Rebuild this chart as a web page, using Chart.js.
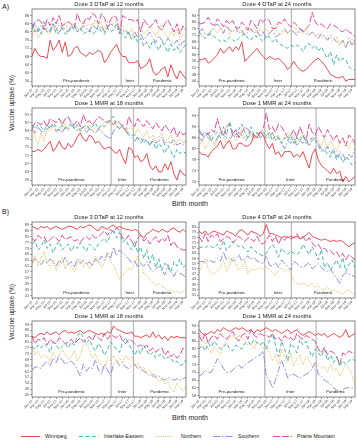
<!DOCTYPE html>
<html>
<head>
<meta charset="utf-8">
<script src="https://cdn.jsdelivr.net/npm/chart.js@4.4.1/dist/chart.umd.min.js"></script>
<style>
  body { margin: 0; background: #fff; width: 357px; height: 440px; position: relative; overflow: hidden;
         font-family: "Liberation Sans", Arial, sans-serif; color: #222; }
  .pan { position: absolute; }
  .txt { position: absolute; white-space: nowrap; }
  .ylab { position: absolute; white-space: nowrap; font-size: 6.5px; transform: translate(-50%, -50%) rotate(-90deg); }
</style>
</head>
<body>
<div class="txt" style="left:2px;top:3px;font-size:7px;">A)</div>
<div class="txt" style="left:2px;top:208px;font-size:7px;">B)</div>
<div class="ylab" style="left:11px;top:103px;">Vaccine uptake (%)</div>
<div class="ylab" style="left:11px;top:312px;">Vaccine uptake (%)</div>
<div class="txt" style="left:190px;top:200px;font-size:7px;transform:translateX(-50%);">Birth month</div>
<div class="txt" style="left:190px;top:414px;font-size:7px;transform:translateX(-50%);">Birth month</div>

<canvas class="pan" id="a1" style="left:18px;top:1px;" width="169" height="97"></canvas>
<canvas class="pan" id="a2" style="left:185px;top:1px;" width="171" height="97"></canvas>
<canvas class="pan" id="a3" style="left:18px;top:100px;" width="169" height="97"></canvas>
<canvas class="pan" id="a4" style="left:185px;top:100px;" width="171" height="97"></canvas>
<canvas class="pan" id="b1" style="left:18px;top:214px;" width="169" height="96"></canvas>
<canvas class="pan" id="b2" style="left:185px;top:214px;" width="171" height="96"></canvas>
<canvas class="pan" id="b3" style="left:18px;top:313px;" width="169" height="96"></canvas>
<canvas class="pan" id="b4" style="left:185px;top:313px;" width="171" height="96"></canvas>

<svg id="legend" class="pan" style="left:0;top:431px;" width="357" height="10"></svg>

<script>
const FONT = '"Liberation Sans", Arial, sans-serif';

// Régions et style des lignes
const regions = ['Winnipeg', 'Interlake-Eastern', 'Northern', 'Southern', 'Prairie Mountain'];
const regionColors = ['#ee4a4f', '#45b8aa', '#e6b443', '#8d8fe2', '#e64b9b'];
const regionDash = [[], [4, 2.5], [1, 1.3], [7, 2, 1.5, 2], [7, 2]];
const periodNames = ['Pre-pandemic', 'Inter', 'Pandemic'];

const monthLabels = [
  'Jan-15','Feb-15','Mar-15','Apr-15','May-15','Jun-15','Jul-15','Aug-15','Sep-15','Oct-15','Nov-15','Dec-15',
  'Jan-16','Feb-16','Mar-16','Apr-16','May-16','Jun-16','Jul-16','Aug-16','Sep-16','Oct-16','Nov-16','Dec-16',
  'Jan-17','Feb-17','Mar-17','Apr-17','May-17','Jun-17','Jul-17','Aug-17','Sep-17','Oct-17','Nov-17','Dec-17',
  'Jan-18','Feb-18','Mar-18','Apr-18','May-18','Jun-18','Jul-18','Aug-18','Sep-18','Oct-18','Nov-18','Dec-18',
  'Jan-19','Feb-19','Mar-19','Apr-19'
];

const panelTitles = ['Dose 3 DTaP at 12 months', 'Dose 4 DTaP at 24 months', 'Dose 1 MMR at 18 months', 'Dose 1 MMR at 24 months'];

// Limites des périodes (position sur l'axe des mois)
const breaks12 = [29.5, 35.3];
const breaks18 = [26.2, 33.6];
const breaksDtap24 = [21.5, 30.2];
const breaksMmr24 = [21.5, 38.3];

// Graduations de l'axe Y
const ticksA1 = [56, 60, 64, 68, 72, 76, 80, 84, 88];
const ticksA2 = [44, 48, 52, 56, 60, 64, 68, 72, 76, 80, 84];
const ticksA3 = [59, 63, 67, 71, 75, 79, 83, 87, 91];
const ticksA4 = [70, 74, 78, 82, 86, 90, 94];
const ticksB1 = [41, 45, 49, 53, 57, 61, 65, 69, 73, 77, 81, 85, 89];
const ticksB2 = [31, 35, 39, 43, 47, 51, 55, 59, 63, 67, 71, 75, 79, 83];
const ticksB3 = [45, 49, 53, 57, 61, 65, 69, 73, 77, 81, 85, 89, 93];
const ticksB4 = [58, 62, 66, 70, 74, 78, 82, 86, 90, 94];

// A) Dose 3 DTaP at 12 months
const a1Winnipeg = [68,72,69,68,68,67,76,71,73,76,70,75,68,69,72,73,70,69,68,70,69,70,71,70,65,67,70,72,74,70,
  68,68,65,65,65,66, 62,63,64,67,61,59,60,62,63,58,64,60,57,61,59,57];
const a1Interlake = [84,80,82,79,83,80,81,84,79,80,82,79,80,83,81,80,82,79,80,81,79,80,83,80,79,82,80,81,84,80,
  79,77,80,76,78,75, 77,73,75,72,76,74,71,75,73,70,74,71,73,70,72,74];
const a1Northern = [78,82,77,80,84,80,79,83,80,84,82,85,80,83,84,82,81,85,83,84,82,86,83,85,80,85,86,84,86,82,
  83,80,78,82,77,80, 82,79,80,83,80,78,81,84,79,77,80,78,82,76,79,78];
const a1Southern = [81,84,80,83,85,82,80,84,82,79,83,81,80,82,84,80,81,83,82,80,84,82,81,83,80,82,84,83,81,82,
  80,81,79,78,80,77, 79,76,78,80,77,75,78,76,74,77,75,74,76,73,75,76];
const a1Prairie = [82,85,86,85,81,86,83,87,84,88,83,84,85,84,82,89,85,84,87,86,89,88,84,89,87,82,86,88,87,79,
  88,87,86,86,85,86, 80,86,84,82,84,86,82,81,84,86,83,80,84,79,83,81];

// A) Dose 4 DTaP at 24 months
const a2Winnipeg = [57,57,58,55,56,58,60,64,61,63,65,62,65,63,68,56,58,60,62,64,61,59,
  57,59,58,57,58,56,54,51,53, 56,53,51,50,51,53,55,57,58,56,54,51,48,47,46,46,47,44,45,45,45];
const a2Interlake = [74,72,70,72,73,71,70,68,69,68,71,69,68,70,72,73,70,69,72,71,70,68,
  72,71,68,70,67,66,65,64,66, 65,66,65,62,66,67,64,66,62,65,61,58,62,54,60,56,58,57,53,51,51];
const a2Northern = [72,71,73,72,75,76,73,77,74,76,72,75,74,76,73,75,77,74,76,73,76,74,
  76,73,77,75,74,72,75,73,76, 77,75,74,73,76,72,74,71,73,70,72,69,70,68,71,66,69,65,68,70,66];
const a2Southern = [74,76,73,72,75,77,79,76,73,78,75,74,77,73,75,72,74,76,73,75,71,74,
  70,73,75,71,72,74,76,73,75, 74,72,76,75,73,72,74,72,70,73,71,69,72,70,68,66,69,64,70,66,69];
const a2Prairie = [79,79,80,83,79,78,82,80,77,81,79,81,77,76,80,78,75,81,79,76,82,80,
  82,81,76,76,80,79,82,79,77, 80,78,76,74,76,78,86,80,78,79,77,76,79,78,77,75,74,76,74,73,71];

// A) Dose 1 MMR at 18 months
const a3Winnipeg = [73,73,74,73,74,76,78,73,75,78,75,74,77,75,77,80,82,79,78,81,80,77,78,76,74,75,75,
  73,72,74,70,67,75,74, 70,71,68,69,72,66,64,66,63,63,67,64,68,62,59,64,62,61];
const a3Interlake = [86,84,86,85,83,86,84,87,85,83,86,84,85,87,84,86,83,85,86,84,85,87,84,86,85,87,89,
  90,86,84,85,83,82,81, 81,79,80,77,79,76,78,74,77,75,72,76,73,70,74,72,73,72];
const a3Northern = [85,80,76,82,78,84,83,86,82,85,84,87,83,85,86,84,82,85,84,86,83,85,84,86,87,88,86,
  88,85,84,86,83,84,85, 81,84,82,80,83,79,81,78,80,82,77,79,81,76,78,79,77,79];
const a3Southern = [84,82,85,83,82,84,85,86,83,84,82,85,84,86,85,83,84,85,82,84,83,82,84,83,81,80,79,
  83,85,84,86,83,81,80, 78,80,77,79,78,76,79,77,78,80,76,78,77,79,76,77,76,78];
const a3Prairie = [84,87,87,86,88,85,89,88,87,89,86,89,90,87,86,88,85,91,87,88,86,88,90,89,88,87,88,
  86,88,87,85,83,90,87, 85,89,87,85,88,86,84,87,85,83,86,84,82,85,80,83,81,82];

// A) Dose 1 MMR at 24 months
const a4Winnipeg = [81,80,80,79,81,82,83,85,82,84,85,82,82,84,84,83,83,84,87,86,88,87,
  84,82,84,80,81,79,81,81,81,79,80,79,81,78,75,80,82, 78,76,75,74,73,75,73,74,70,72,70,71,72];
const a4Interlake = [89,87,86,88,85,87,88,86,90,87,92,88,87,89,91,88,86,90,87,88,86,87,
  86,88,85,87,86,84,86,85,87,84,86,85,87,84,85,86,85, 83,81,82,80,79,81,78,80,77,79,78,76,77];
const a4Northern = [83,85,82,84,87,83,85,88,86,84,86,88,85,87,89,86,88,87,85,88,86,87,
  89,86,88,85,87,84,86,88,85,87,84,86,88,85,83,86,87, 85,83,86,82,85,83,81,84,86,84,82,85,83];
const a4Southern = [86,85,87,86,85,84,86,88,87,86,85,87,86,88,87,85,86,88,87,86,87,88,
  87,86,88,85,86,84,82,85,84,86,83,85,84,86,83,85,86, 84,82,81,83,80,82,79,81,80,78,80,79,82];
const a4Prairie = [88,87,88,87,89,88,93,89,87,90,91,87,89,86,88,90,89,88,86,87,88,89,
  95,89,90,88,91,90,88,86,87,89,86,90,87,85,91,88,87, 90,88,86,89,87,85,87,84,86,83,87,86,84];

// B) Dose 3 DTaP at 12 months
const b1Winnipeg = [88,87,86,88,87,88,86,87,88,87,86,87,88,88,87,86,88,87,88,89,88,86,85,88,87,86,88,89,87,88,
  87,86,86,85,86,85, 82,80,83,84,86,85,84,86,85,84,86,87,85,84,86,84];
const b1Interlake = [76,78,72,74,79,73,76,70,75,78,72,74,76,71,75,73,77,74,71,76,74,72,76,78,80,77,83,86,80,84,
  77,79,75,72,78,70, 74,66,72,63,69,60,66,58,63,60,57,64,61,66,60,62];
const b1Northern = [62,68,61,66,71,63,60,65,58,62,67,59,64,61,57,63,66,60,64,59,62,68,65,60,63,70,64,62,57,52,
  55,57,60,58,63,68, 64,56,55,52,50,48,49,47,46,44,45,43,44,42,44,45];
const b1Southern = [63,66,64,62,65,63,66,64,61,65,63,67,62,64,60,66,63,65,62,64,61,66,63,68,65,70,66,74,68,72,
  70,68,66,63,65,60, 63,61,64,60,57,59,61,58,55,62,57,54,58,56,55,53];
const b1Prairie = [80,78,82,80,81,77,79,81,80,78,82,79,80,81,78,79,77,80,81,79,82,80,81,83,85,82,86,84,87,85,
  80,79,82,78,74,80, 82,78,80,76,79,81,77,80,78,82,75,78,74,73,72,72];

// B) Dose 4 DTaP at 24 months
const b2Winnipeg = [80,78,80,77,79,80,79,78,77,80,79,78,76,80,81,79,77,80,79,78,76,78,
  85,78,78,77,76,75,76,75,76, 75,76,74,75,77,79,76,75,74,73,74,73,72,73,72,73,72,70,68,70,71];
const b2Interlake = [67,68,67,69,68,67,70,66,73,65,68,72,70,68,69,66,64,68,66,63,62,61,
  63,67,70,66,60,67,64,62,65, 63,62,64,70,66,62,68,64,58,66,52,56,50,54,58,52,60,49,54,58,52];
const b2Northern = [48,54,59,51,48,47,50,52,58,49,54,60,55,50,52,58,47,51,50,51,52,51,
  53,51,48,46,50,52,49,51,47, 42,40,39,40,39,38,40,37,38,36,35,37,34,35,34,33,32,34,35,33,31];
const b2Southern = [56,57,56,58,57,56,59,57,64,58,60,57,58,62,57,59,61,58,60,57,56,55,
  61,54,53,56,52,58,55,53,50, 57,55,53,52,54,56,51,53,55,52,50,49,51,47,44,40,46,48,47,46,45];
const b2Prairie = [76,72,78,72,77,75,78,72,74,76,75,71,73,76,74,72,75,74,72,76,71,70,
  73,77,72,76,70,75,73,76,74, 75,78,74,76,72,75,71,68,70,66,67,64,65,62,64,60,63,58,62,60,58];

// B) Dose 1 MMR at 18 months
const b3Winnipeg = [85,84,86,87,86,88,86,87,88,86,88,89,87,88,87,88,89,87,88,89,88,87,86,87,86,88,87,
  92,90,89,88,87,87,88, 85,85,84,85,86,84,88,84,86,83,85,82,85,84,85,84,84,84];
const b3Interlake = [78,76,79,77,80,78,74,81,79,76,78,80,77,81,79,85,88,84,80,83,78,75,80,77,72,76,81,
  79,76,74,81,84,80,76, 72,76,73,79,75,72,74,70,72,73,69,71,70,67,68,65,66,69];
const b3Northern = [78,72,75,70,72,71,68,74,70,72,76,73,69,71,75,68,72,79,80,76,70,73,68,65,63,70,68,
  72,68,70,67,72,69,71, 65,67,61,64,60,62,57,59,54,56,52,55,49,47,53,50,48,51];
const b3Southern = [62,64,64,63,66,68,65,70,67,72,69,66,67,68,66,62,58,66,61,64,63,69,62,59,66,62,58,
  66,68,65,67,64,63,65, 66,63,64,61,60,58,59,57,58,56,55,57,56,55,56,55,56,57];
const b3Prairie = [85,80,83,82,84,79,83,81,80,84,82,80,81,83,80,82,84,81,83,85,82,86,84,82,87,83,86,
  85,84,86,82,80,83,82, 80,78,79,77,79,75,77,74,76,77,72,75,71,73,70,72,77,76];

// B) Dose 1 MMR at 24 months
const b4Winnipeg = [92,90,89,90,91,90,92,91,93,92,91,92,93,92,93,92,91,92,90,92,91,92,
  93,92,91,92,91,90,91,92,90,91,92,90,89,90,91,90,89, 90,89,90,88,89,90,89,88,89,92,88,89,90];
const b4Interlake = [82,84,81,85,83,86,84,82,83,85,82,81,84,83,82,85,86,84,87,85,84,86,
  82,86,90,84,78,86,82,76,85,83,80,87,84,86,81,78,82, 80,78,82,76,79,75,78,73,76,74,76,77,76];
const b4Northern = [90,88,85,82,80,83,81,79,84,86,88,89,87,89,88,86,84,85,82,86,84,82,
  84,80,76,79,74,82,78,75,80,73,77,79,74,78,76,73,75, 74,72,73,70,74,71,72,68,71,74,72,69,63];
const b4Southern = [68,69,71,70,70,73,77,75,72,70,70,71,73,74,72,74,75,76,77,78,79,81,
  68,66,62,66,71,76,72,67,69,69,68,67,68,69,70,72,75, 69,68,66,65,64,62,61,60,61,62,62,62,62];
const b4Prairie = [89,86,90,85,88,89,87,90,88,87,89,91,88,86,89,90,87,92,89,88,90,89,
  89,88,90,87,88,86,89,87,88,86,90,88,87,89,88,87,86, 82,80,83,79,81,80,78,74,80,79,81,80,80];

const panels = [
  { id: 'a1', title: panelTitles[0], yTicks: ticksA1, yMin: 53.6, yMax: 91.2, breaks: breaks12,
    series: [a1Winnipeg, a1Interlake, a1Northern, a1Southern, a1Prairie] },
  { id: 'a2', title: panelTitles[1], yTicks: ticksA2, yMin: 41, yMax: 88, breaks: breaksDtap24,
    series: [a2Winnipeg, a2Interlake, a2Northern, a2Southern, a2Prairie] },
  { id: 'a3', title: panelTitles[2], yTicks: ticksA3, yMin: 56.6, yMax: 94.2, breaks: breaks18,
    series: [a3Winnipeg, a3Interlake, a3Northern, a3Southern, a3Prairie] },
  { id: 'a4', title: panelTitles[3], yTicks: ticksA4, yMin: 68.9, yMax: 96.8, breaks: breaksMmr24,
    series: [a4Winnipeg, a4Interlake, a4Northern, a4Southern, a4Prairie] },
  { id: 'b1', title: panelTitles[0], yTicks: ticksB1, yMin: 39.3, yMax: 91, breaks: breaks12,
    series: [b1Winnipeg, b1Interlake, b1Northern, b1Southern, b1Prairie] },
  { id: 'b2', title: panelTitles[1], yTicks: ticksB2, yMin: 28.7, yMax: 87, breaks: breaksDtap24,
    series: [b2Winnipeg, b2Interlake, b2Northern, b2Southern, b2Prairie] },
  { id: 'b3', title: panelTitles[2], yTicks: ticksB3, yMin: 43.6, yMax: 95.4, breaks: breaks18,
    series: [b3Winnipeg, b3Interlake, b3Northern, b3Southern, b3Prairie] },
  { id: 'b4', title: panelTitles[3], yTicks: ticksB4, yMin: 57.3, yMax: 96.4, breaks: breaksMmr24,
    series: [b4Winnipeg, b4Interlake, b4Northern, b4Southern, b4Prairie] }
];

// Cadre, titre, lignes de séparation et noms des périodes
const panelDecor = {
  id: 'panelDecor',
  beforeDatasetsDraw(chart, args, o) {
    const { ctx, chartArea: a, scales: { x } } = chart;
    ctx.save();
    ctx.strokeStyle = '#b8b8b8';
    ctx.lineWidth = 1.2;
    o.breaks.forEach(b => {
      const px = x.getPixelForValue(b);
      ctx.beginPath();
      ctx.moveTo(px, a.top);
      ctx.lineTo(px, a.bottom);
      ctx.stroke();
    });
    ctx.restore();
  },
  afterDraw(chart, args, o) {
    const { ctx, chartArea: a, scales: { x } } = chart;
    ctx.save();
    ctx.strokeStyle = '#666';
    ctx.lineWidth = 0.8;
    ctx.strokeRect(a.left, a.top, a.right - a.left, a.bottom - a.top);
    ctx.fillStyle = '#222';
    ctx.textAlign = 'center';
    ctx.textBaseline = 'middle';
    ctx.font = '5.8px ' + FONT;
    ctx.fillText(o.title, (a.left + a.right) / 2, a.top - 4.5);
    const edges = [a.left, ...o.breaks.map(b => x.getPixelForValue(b)), a.right];
    ctx.font = '4.3px ' + FONT;
    periodNames.forEach((p, i) => ctx.fillText(p, (edges[i] + edges[i + 1]) / 2, a.bottom - 5));
    ctx.restore();
  }
};

panels.forEach(p => {
  const datasets = p.series.map((values, i) => ({
    label: regions[i],
    data: values,
    borderColor: regionColors[i],
    borderWidth: 1,
    borderDash: regionDash[i],
    pointRadius: 0,
    tension: 0,
    fill: false
  }));

  new Chart(document.getElementById(p.id), {
    type: 'line',
    data: { labels: monthLabels, datasets },
    plugins: [panelDecor],
    options: {
      responsive: false,
      animation: false,
      devicePixelRatio: 1,
      layout: { padding: { top: 8, right: 1, left: 0, bottom: 0 } },
      plugins: {
        legend: { display: false },
        tooltip: { enabled: false },
        title: { display: false },
        panelDecor: { title: p.title, breaks: p.breaks }
      },
      scales: {
        x: {
          type: 'category',
          offset: false,
          grid: { display: true, drawOnChartArea: false, tickLength: 2, color: '#555', lineWidth: 0.5 },
          border: { display: false },
          ticks: { autoSkip: false, minRotation: 45, maxRotation: 45, padding: 0,
                   font: { size: 3.5, family: FONT }, color: '#444' },
          afterBuildTicks: s => { s.ticks = s.ticks.filter((t, i) => i % 2 === 0); },
          afterFit: s => { s.height = 12; }
        },
        y: {
          min: p.yMin,
          max: p.yMax,
          grid: { display: true, drawOnChartArea: false, tickLength: 2, color: '#555', lineWidth: 0.5 },
          border: { display: false },
          ticks: { autoSkip: false, padding: 1, font: { size: 3.8, family: FONT }, color: '#444' },
          afterBuildTicks: s => { s.ticks = p.yTicks.map(v => ({ value: v })); },
          afterFit: s => { s.width = 14; }
        }
      }
    }
  });
});

// Légende commune en bas
const legendItems = [
  { x1: 21, x2: 40, tx: 45 },
  { x1: 79, x2: 99, tx: 104 },
  { x1: 156, x2: 172, tx: 181 },
  { x1: 213, x2: 233, tx: 238 },
  { x1: 273, x2: 292, tx: 297 }
];
const svg = document.getElementById('legend');
let html = '';
regions.forEach((r, i) => {
  const it = legendItems[i];
  const dash = regionDash[i].length ? ` stroke-dasharray="${regionDash[i].join(' ')}"` : '';
  html += `<line x1="${it.x1}" y1="5.5" x2="${it.x2}" y2="5.5" stroke="${regionColors[i]}" stroke-width="1"${dash}/>`;
  html += `<text x="${it.tx}" y="7.3" font-size="5.2" font-family='${FONT}' fill="#222">${r}</text>`;
});
svg.innerHTML = html;
</script>
</body>
</html>
